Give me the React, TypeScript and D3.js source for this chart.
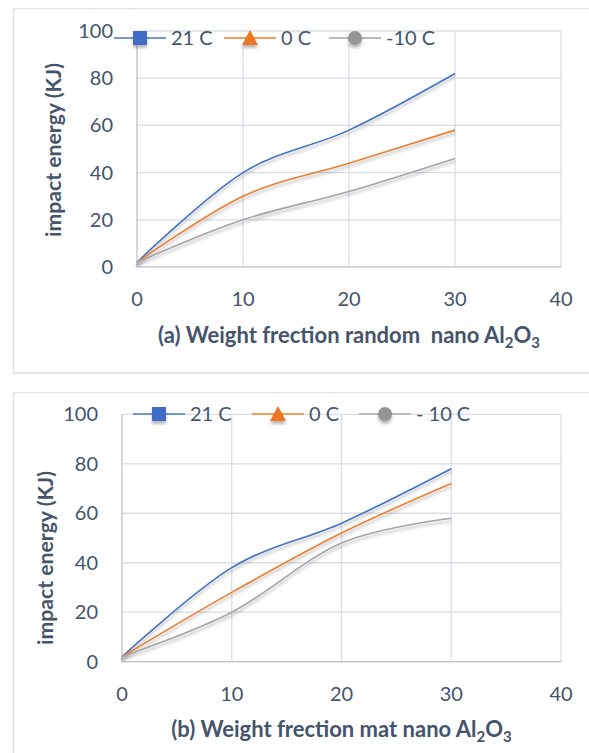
import React, { useEffect, useRef } from "react";
import * as d3 from "d3";

// weight fraction (%)
const xValues = [0, 10, 20, 30];
// impact energy (KJ), random nano Al2O3
const random21 = [2, 40, 58, 82];
const random0 = [2, 30, 44, 58];
const randomMinus10 = [2, 20, 32, 46];
// impact energy (KJ), mat nano Al2O3
const mat21 = [2, 38, 56, 78];
const mat0 = [2, 28, 52, 72];
const matMinus10 = [2, 20, 48, 58];

const legendRandom = ["21 C", "0 C", "-10 C"];
const legendMat = ["21 C", "0 C", "- 10 C"];
const xTicks = [0, 10, 20, 30, 40];
const yTicks = [0, 20, 40, 60, 80, 100];

const colors = ["#4472c4", "#ed7d31", "#a5a5a5"];
const markerColors = ["#3f6cc6", "#ee7522", "#959595"];
const markers = ["square", "triangle", "circle"];
const textColor = "#44546a";
const font = "Lato, 'Open Sans', sans-serif";

const panels = [
	{
		id: "a",
		series: [random21, random0, randomMinus10],
		legend: legendRandom,
		prefix: "(a) Weight frection random  nano Al",
		boxTop: 8.5,
		boxHeight: 364.5,
		left: 137,
		right: 561,
		top: 31,
		bottom: 267,
		legendY: 38,
		legendX: [114, 224, 329],
		titleY: 343,
		yTitleX: 53,
		yTitleY: 150,
	},
	{
		id: "b",
		series: [mat21, mat0, matMinus10],
		legend: legendMat,
		prefix: "(b) Weight frection mat nano Al",
		boxTop: 392.5,
		boxHeight: 400,
		left: 122,
		right: 561,
		top: 414.3,
		bottom: 661.7,
		legendY: 414,
		legendX: [133, 252, 359],
		titleY: 737,
		yTitleX: 45,
		yTitleY: 558,
	},
];

const App = () => {
	const svgRef = useRef(null);

	useEffect(() => {
		const svg = d3.select(svgRef.current);
		svg.selectAll("*").remove();

		const defs = svg.append("defs");
		const filter = defs
			.append("filter")
			.attr("id", "shadow")
			.attr("x", "-10%")
			.attr("y", "-10%")
			.attr("width", "120%")
			.attr("height", "140%");
		filter
			.append("feDropShadow")
			.attr("dx", 0)
			.attr("dy", 3)
			.attr("stdDeviation", 1.6)
			.attr("flood-color", "#000")
			.attr("flood-opacity", 0.28);

		panels.forEach((p) => {
			const g = svg.append("g");

			// outer chart box
			g.append("rect")
				.attr("x", 13.5)
				.attr("y", p.boxTop)
				.attr("width", 600)
				.attr("height", p.boxHeight)
				.attr("fill", "#fff")
				.attr("stroke", "#dde1e8")
				.attr("stroke-width", 1.5);

			const x = d3.scaleLinear().domain([0, 40]).range([p.left, p.right]);
			const y = d3.scaleLinear().domain([0, 100]).range([p.bottom, p.top]);

			// grid
			g.selectAll(".hgrid")
				.data(yTicks.filter((t) => t > 0))
				.enter()
				.append("line")
				.attr("x1", p.left)
				.attr("x2", p.right)
				.attr("y1", (d) => y(d))
				.attr("y2", (d) => y(d))
				.attr("stroke", "#d9dee6")
				.attr("stroke-width", 1.3);
			g.selectAll(".vgrid")
				.data(xTicks.filter((t) => t > 0))
				.enter()
				.append("line")
				.attr("x1", (d) => x(d))
				.attr("x2", (d) => x(d))
				.attr("y1", p.top)
				.attr("y2", p.bottom)
				.attr("stroke", "#d9dee6")
				.attr("stroke-width", 1.3);

			// axis lines
			g.append("line")
				.attr("x1", p.left)
				.attr("x2", p.right)
				.attr("y1", y(0))
				.attr("y2", y(0))
				.attr("stroke", "#c3cad6")
				.attr("stroke-width", 1.5);
			g.append("line")
				.attr("x1", x(0))
				.attr("x2", x(0))
				.attr("y1", p.top)
				.attr("y2", p.bottom)
				.attr("stroke", "#c3cad6")
				.attr("stroke-width", 1.5);

			// tick labels
			g.selectAll(".ylab")
				.data(yTicks)
				.enter()
				.append("text")
				.attr("x", p.left - 24)
				.attr("y", (d) => y(d) + 7)
				.attr("text-anchor", "end")
				.attr("font-family", font)
				.attr("font-size", 20)
				.attr("fill", textColor)
				.text((d) => d);
			g.selectAll(".xlab")
				.data(xTicks)
				.enter()
				.append("text")
				.attr("x", (d) => x(d))
				.attr("y", y(0) + 39)
				.attr("text-anchor", "middle")
				.attr("font-family", font)
				.attr("font-size", 20)
				.attr("fill", textColor)
				.text((d) => d);

			// series
			const line = d3
				.line()
				.x((d) => x(d[0]))
				.y((d) => y(d[1]))
				.curve(d3.curveCardinal.tension(0));

			p.series.forEach((vals, i) => {
				g.append("path")
					.datum(xValues.map((xv, j) => [xv, vals[j]]))
					.attr("d", line)
					.attr("fill", "none")
					.attr("stroke", colors[i])
					.attr("stroke-width", 1.6)
					.attr("filter", "url(#shadow)");
			});

			// legend
			p.legend.forEach((name, i) => {
				const lx = p.legendX[i];
				const ly = p.legendY;
				const lg = g.append("g");
				lg.append("rect")
					.attr("x", lx)
					.attr("y", ly - 6)
					.attr("width", 52)
					.attr("height", 12)
					.attr("fill", "#fff");
				lg.append("line")
					.attr("x1", lx)
					.attr("x2", lx + 52)
					.attr("y1", ly)
					.attr("y2", ly)
					.attr("stroke", colors[i])
					.attr("stroke-width", 1.6);
				const cx = lx + 26;
				if (markers[i] === "square") {
					lg.append("rect")
						.attr("x", cx - 7)
						.attr("y", ly - 7)
						.attr("width", 14)
						.attr("height", 14)
						.attr("fill", markerColors[i])
						.attr("filter", "url(#shadow)");
				} else if (markers[i] === "triangle") {
					lg.append("path")
						.attr("d", `M${cx},${ly - 8}L${cx + 8},${ly + 7}L${cx - 8},${ly + 7}Z`)
						.attr("fill", markerColors[i])
						.attr("filter", "url(#shadow)");
				} else {
					lg.append("circle")
						.attr("cx", cx)
						.attr("cy", ly)
						.attr("r", 7)
						.attr("fill", markerColors[i])
						.attr("filter", "url(#shadow)");
				}
				lg.append("text")
					.attr("x", lx + 57)
					.attr("y", ly + 7)
					.attr("font-family", font)
					.attr("font-size", 20)
					.attr("fill", textColor)
					.text(name);
			});

			// y axis title
			g.append("text")
				.attr("transform", `translate(${p.yTitleX},${p.yTitleY}) rotate(-90)`)
				.attr("text-anchor", "middle")
				.attr("dominant-baseline", "central")
				.attr("font-family", font)
				.attr("font-weight", "bold")
				.attr("font-size", 20)
				.attr("textLength", 174)
				.attr("lengthAdjust", "spacingAndGlyphs")
				.attr("fill", textColor)
				.text("impact energy (KJ)");

			// x axis title with subscripts
			const t = g
				.append("text")
				.attr("x", (p.left + p.right) / 2)
				.attr("y", p.titleY)
				.attr("text-anchor", "middle")
				.attr("font-family", font)
				.attr("font-weight", "bold")
				.attr("font-size", 22)
				.attr("fill", textColor)
				.style("white-space", "pre");
			t.append("tspan").text(p.prefix);
			t.append("tspan").attr("dy", 5).attr("font-size", 15).text("2");
			t.append("tspan").attr("dy", -5).text("O");
			t.append("tspan").attr("dy", 5).attr("font-size", 15).text("3");
		});
	}, []);

	return (
		<svg
			ref={svgRef}
			width={589}
			height={753}
			style={{ position: "absolute", left: 0, top: 0, background: "#fff" }}
		></svg>
	);
};

export default App;
